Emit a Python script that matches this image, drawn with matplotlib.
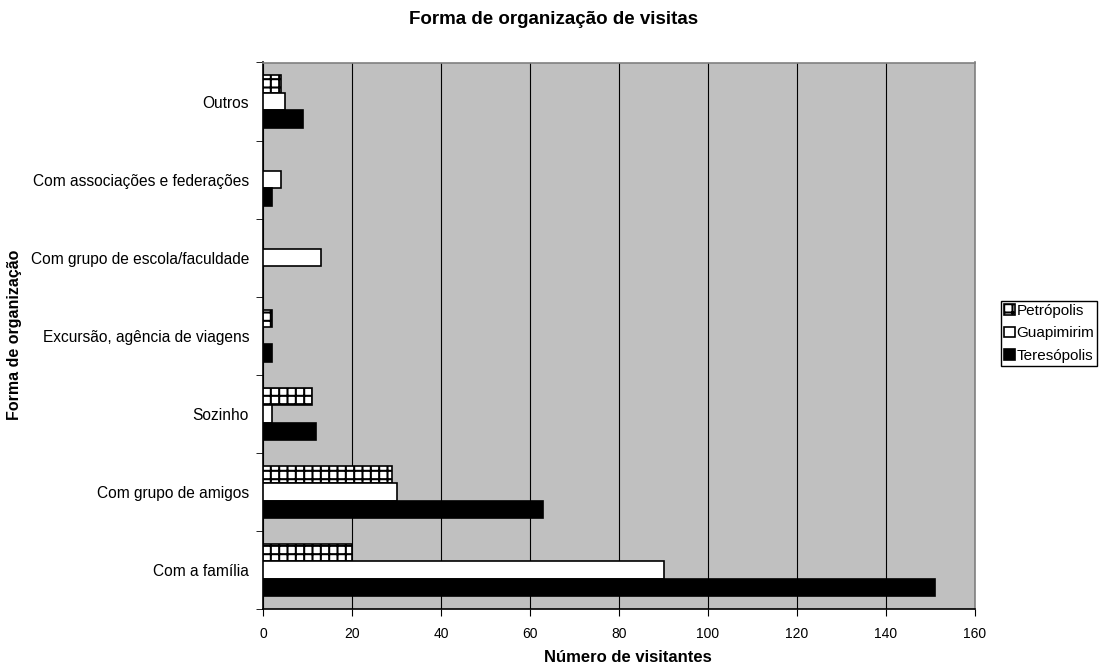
import matplotlib
matplotlib.use("Agg")
import matplotlib.pyplot as plt
import numpy as np

plt.rcParams['font.family'] = ['Liberation Sans', 'DejaVu Sans']
plt.rcParams['hatch.linewidth'] = 1.5

## Dados

categorias = ["Com a família", "Com grupo de amigos", "Sozinho",
              "Excursão, agência de viagens", "Com grupo de escola/faculdade",
              "Com associações e federações", "Outros"]
petropolis = [20, 29, 11, 2, 0, 0, 4]
guapimirim = [90, 30, 2, 0, 13, 4, 5]
teresopolis = [151, 63, 12, 2, 0, 2, 9]
xticks = [0, 20, 40, 60, 80, 100, 120, 140, 160]

## Figure

fig = plt.figure(figsize=(11.06, 6.66), dpi=100)
ax = fig.add_axes([263/1106, 1 - 609/666, 712/1106, 546.5/666])
ax.set_facecolor("#c0c0c0")

y = np.arange(len(categorias))
h = 0.223

ax.barh(y + h, petropolis, h, color="white", edgecolor="black", hatch="++",
        linewidth=1.2, label="Petrópolis", zorder=3)
ax.barh(y, guapimirim, h, color="white", edgecolor="black",
        linewidth=1.2, label="Guapimirim", zorder=3)
ax.barh(y - h, teresopolis, h, color="black", edgecolor="black",
        linewidth=1.2, label="Teresópolis", zorder=3)

ax.set_xlim(0, 160)
ax.set_ylim(-0.5, len(categorias) - 0.5)
ax.set_xticks(xticks)
ax.set_xticklabels([str(v) for v in xticks], fontsize=10)
ax.xaxis.grid(True, color="black", linewidth=0.8, zorder=1)

ax.set_yticks(y)
ax.set_yticklabels(categorias, fontsize=11.2)
ax.set_yticks(np.arange(-0.5, len(categorias)), minor=True)
ax.tick_params(axis="y", which="major", length=0, pad=10)
ax.tick_params(axis="y", which="minor", length=5, direction="out", color="black")
ax.tick_params(axis="x", length=5, direction="out", color="black", pad=8)

for s in ["top", "right"]:
    ax.spines[s].set_color("#808080")
    ax.spines[s].set_linewidth(1.2)
for s in ["left", "bottom"]:
    ax.spines[s].set_color("black")
    ax.spines[s].set_linewidth(1.2)

fig.text(628/1106, 1 - 658/666, "Número de visitantes",
         fontsize=12, fontweight="bold", ha="center", va="center")
fig.text(15/1106, 1 - 335/666, "Forma de organização", rotation=90,
         fontsize=11.5, fontweight="bold", ha="center", va="center")
fig.text(554/1106, 1 - 20/666, "Forma de organização de visitas",
         fontsize=13.5, fontweight="bold", ha="center", va="center")

leg = fig.legend(loc="upper left", bbox_to_anchor=(1001/1106, 1 - 301/666),
                 fontsize=11, frameon=True, fancybox=False, framealpha=1,
                 edgecolor="black", handlelength=0.7, handleheight=0.7,
                 handletextpad=0.1, borderpad=0.2, labelspacing=0.55,
                 borderaxespad=0)
leg.get_frame().set_linewidth(1.0)

fig.savefig("out.png", dpi=100)
